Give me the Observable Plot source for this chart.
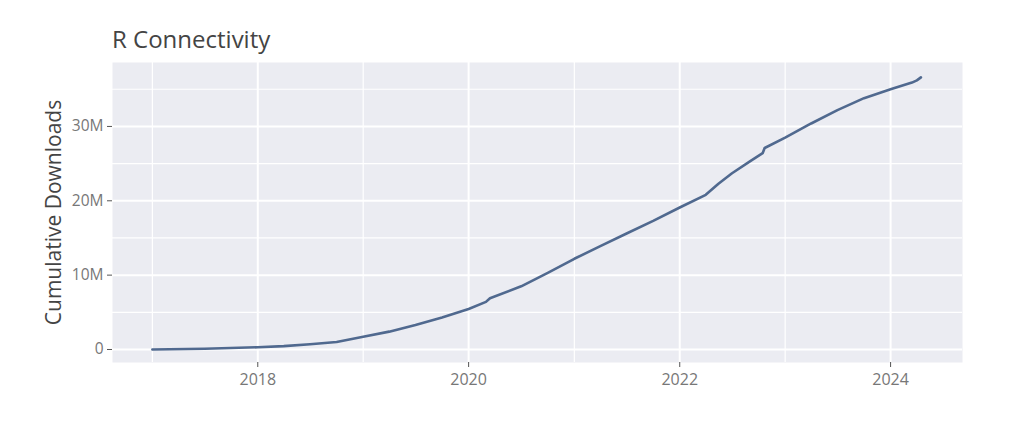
<!DOCTYPE html>
<html>
<head>
<meta charset="utf-8">
<script src="https://cdn.jsdelivr.net/npm/d3@7"></script>
<script src="https://cdn.jsdelivr.net/npm/@observablehq/plot@0.6"></script>
<style>
  body { margin: 0; background: #fff; font-family: "Open Sans", sans-serif; }
  #title { height: 55px; position: relative; }
  #title span { position: absolute; left: 112px; top: 27px; font-size: 24px; line-height: 24px; color: #444; }
  svg { display: block; }
</style>
</head>
<body>
<div id="title"><span>R Connectivity</span></div>
<div id="chart"></div>
<script>
const dates = [
  "2017-01-01","2017-07-01","2018-01-01","2018-04-01","2018-07-01","2018-10-01","2019-01-01",
  "2019-04-01","2019-07-01","2019-10-01","2020-01-01","2020-03-01","2020-03-15",
  "2020-07-01","2020-10-01","2021-01-01","2021-04-01","2021-07-01","2021-10-01",
  "2022-01-01","2022-04-01","2022-05-15","2022-07-01","2022-09-01","2022-10-15",
  "2022-10-22","2023-01-01","2023-04-01","2023-07-01","2023-10-01","2024-01-01",
  "2024-03-15","2024-04-01","2024-04-15"
];
const downloads = [
  0, 0.1e6, 0.3e6, 0.45e6, 0.7e6, 1.0e6, 1.7e6,
  2.4e6, 3.3e6, 4.3e6, 5.45e6, 6.4e6, 6.9e6,
  8.5e6, 10.3e6, 12.2e6, 13.9e6, 15.6e6, 17.3e6,
  19.1e6, 20.8e6, 22.3e6, 23.7e6, 25.3e6, 26.4e6,
  27.1e6, 28.5e6, 30.4e6, 32.2e6, 33.8e6, 35.0e6,
  35.9e6, 36.2e6, 36.6e6
];
const majorYears = ["2018-01-01","2020-01-01","2022-01-01","2024-01-01"];
const minorYears = ["2017-01-01","2019-01-01","2021-01-01","2023-01-01"];
const majorY = [0, 10e6, 20e6, 30e6];
const minorY = [5e6, 15e6, 25e6, 35e6];
const yTitle = "Cumulative Downloads";

const data = dates.map((d, i) => ({date: new Date(d), value: downloads[i]}));
const majX = majorYears.map(d => new Date(d));
const minX = minorYears.map(d => new Date(d));

const chart = Plot.plot({
  width: 1024,
  height: 384,
  marginTop: 7,
  marginBottom: 77,
  marginLeft: 112,
  marginRight: 62,
  style: {fontFamily: "Open Sans, sans-serif", background: "#fff"},
  x: {type: "utc", domain: [new Date("2016-08-16"), new Date("2024-09-06")]},
  y: {domain: [-1.75e6, 38.6e6]},
  marks: [
    Plot.frame({fill: "#ebecf2", stroke: null}),
    Plot.ruleX(minX, {stroke: "#fff", strokeWidth: 1.2}),
    Plot.ruleY(minorY, {stroke: "#fff", strokeWidth: 1.2}),
    Plot.ruleX(majX, {stroke: "#fff", strokeWidth: 2}),
    Plot.ruleY(majorY, {stroke: "#fff", strokeWidth: 2}),
    Plot.line(data, {x: "date", y: "value", stroke: "#50698f", strokeWidth: 2.6, curve: "linear"}),
    Plot.axisY({
      ticks: majorY,
      tickFormat: d => d === 0 ? "0" : (d / 1e6) + "M",
      tickSize: 5, tickPadding: 4, fontSize: 15.5, color: "#777", stroke: "#555",
      label: null
    }),
    Plot.text([yTitle], {
      frameAnchor: "left", textAnchor: "middle", rotate: -90, dx: -58, fontSize: 21, fill: "#444",
      text: d => d
    }),
    Plot.axisX({
      ticks: majX,
      tickFormat: d => String(d.getUTCFullYear()),
      tickSize: 5, tickPadding: 6, fontSize: 16, color: "#777", stroke: "#555",
      label: null
    })
  ]
});
document.getElementById("chart").appendChild(chart);
</script>
</body>
</html>
